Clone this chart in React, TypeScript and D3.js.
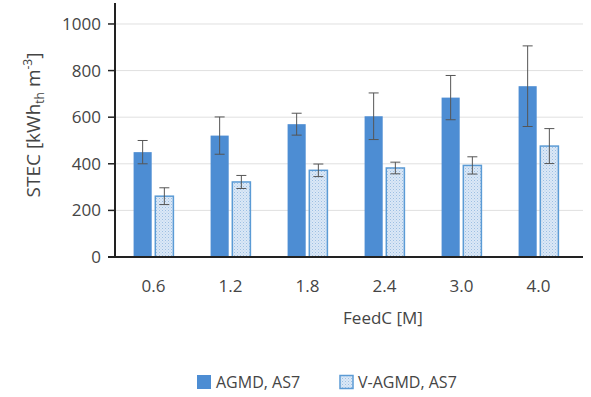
import React from 'react';
import * as d3 from 'd3';

const categories = ['0.6', '1.2', '1.8', '2.4', '3.0', '4.0'];
const agmd = [450, 521, 570, 604, 684, 733];
const agmdErr = [50, 80, 47, 100, 95, 173];
const vagmd = [261, 322, 372, 382, 393, 476];
const vagmdErr = [36, 28, 27, 25, 37, 75];
const yTicks = [0, 200, 400, 600, 800, 1000];
const seriesNames = ['AGMD, AS7', 'V-AGMD, AS7'];

const W = 591;
const H = 397;
const margin = { top: 3, right: 14, bottom: 140, left: 115 };
const font = '"Open Sans", sans-serif';
const textColor = '#454545';

const App = () => {
  const x = d3
    .scaleBand()
    .domain(categories)
    .range([margin.left, W - margin.right])
    .paddingInner(0.47)
    .paddingOuter(0.235);
  const inner = d3.scaleBand().domain(['a', 'v']).range([0, x.bandwidth()]).paddingInner(0.12);
  const y = d3.scaleLinear().domain([0, 1090]).range([H - margin.bottom, margin.top]);

  const series = [
    { key: 'a', values: agmd, err: agmdErr, fill: '#4d8dd3', stroke: '#4d8dd3' },
    { key: 'v', values: vagmd, err: vagmdErr, fill: 'url(#dots)', stroke: '#5b9bd5' },
  ];

  const y0 = y(0);

  return (
    <svg width={W} height={H} style={{ position: 'absolute', left: 0, top: 0 }}>
      <defs>
        <pattern id="dots" width="3" height="3" patternUnits="userSpaceOnUse">
          <rect width="3" height="3" fill="#dbe8f6" />
          <rect width="1" height="1" fill="#9dbfe3" />
          <rect x="1.5" y="1.5" width="1" height="1" fill="#b5cfeb" />
        </pattern>
      </defs>
      <rect width={W} height={H} fill="#fff" />
      {/* gridlines */}
      {yTicks.slice(1).map((t) => (
        <line key={t} x1={margin.left} x2={583} y1={y(t)} y2={y(t)} stroke="#e0e0e0" strokeWidth={1} />
      ))}
      {/* bars */}
      {series.map((s) =>
        categories.map((c, i) => {
          const bx = (x(c) as number) + (inner(s.key) as number);
          const bw = inner.bandwidth();
          const cx = bx + bw / 2;
          return (
            <g key={s.key + c}>
              <rect
                x={bx + 0.5}
                y={y(s.values[i])}
                width={bw - 1}
                height={y0 - y(s.values[i])}
                fill={s.fill}
                stroke={s.stroke}
                strokeWidth={s.key === 'v' ? 1.5 : 0}
              />
              <line x1={cx} x2={cx} y1={y(s.values[i] + s.err[i])} y2={y(s.values[i] - s.err[i])} stroke="#555" strokeWidth={1} />
              <line x1={cx - 5} x2={cx + 5} y1={y(s.values[i] + s.err[i])} y2={y(s.values[i] + s.err[i])} stroke="#555" strokeWidth={1} />
              <line x1={cx - 5} x2={cx + 5} y1={y(s.values[i] - s.err[i])} y2={y(s.values[i] - s.err[i])} stroke="#555" strokeWidth={1} />
            </g>
          );
        })
      )}
      {/* y axis */}
      <line x1={margin.left} x2={margin.left} y1={margin.top} y2={y0} stroke="#222" strokeWidth={2} />
      {yTicks.map((t) => (
        <g key={t}>
          <line x1={margin.left - 7} x2={margin.left} y1={y(t)} y2={y(t)} stroke="#222" strokeWidth={1.5} />
          <text x={margin.left - 14} y={y(t)} dy="0.35em" textAnchor="end" fontFamily={font} fontSize={17} fill={textColor}>
            {t}
          </text>
        </g>
      ))}
      {/* x axis */}
      <line x1={margin.left - 7} x2={583} y1={y0} y2={y0} stroke="#222" strokeWidth={2} />
      {categories.map((c) => (
        <text key={c} x={(x(c) as number) + x.bandwidth() / 2} y={292} textAnchor="middle" fontFamily={font} fontSize={17} fill={textColor}>
          {c}
        </text>
      ))}
      <text x={383} y={324} textAnchor="middle" fontFamily={font} fontSize={17} fill={textColor}>
        FeedC [M]
      </text>
      <text
        transform={`translate(40, ${125}) rotate(-90)`}
        textAnchor="middle"
        fontFamily={font}
        fontSize={19}
        fill={textColor}
      >
        STEC [kWh<tspan fontSize={12} dy="4">th</tspan>
        <tspan dy="-4"> m</tspan>
        <tspan fontSize={12} dy="-8">-3</tspan>
        <tspan dy="8">]</tspan>
      </text>
      {/* legend */}
      <rect x={197} y={375} width={14} height={14} fill="#4d8dd3" />
      <text x={216} y={382} dy="0.35em" fontFamily={font} fontSize={16} fill={textColor}>
        {seriesNames[0]}
      </text>
      <rect x={340} y={375.5} width={13} height={13} fill="url(#dots)" stroke="#5b9bd5" strokeWidth={1.5} />
      <text x={358} y={382} dy="0.35em" fontFamily={font} fontSize={16} fill={textColor}>
        {seriesNames[1]}
      </text>
    </svg>
  );
};

export default App;
